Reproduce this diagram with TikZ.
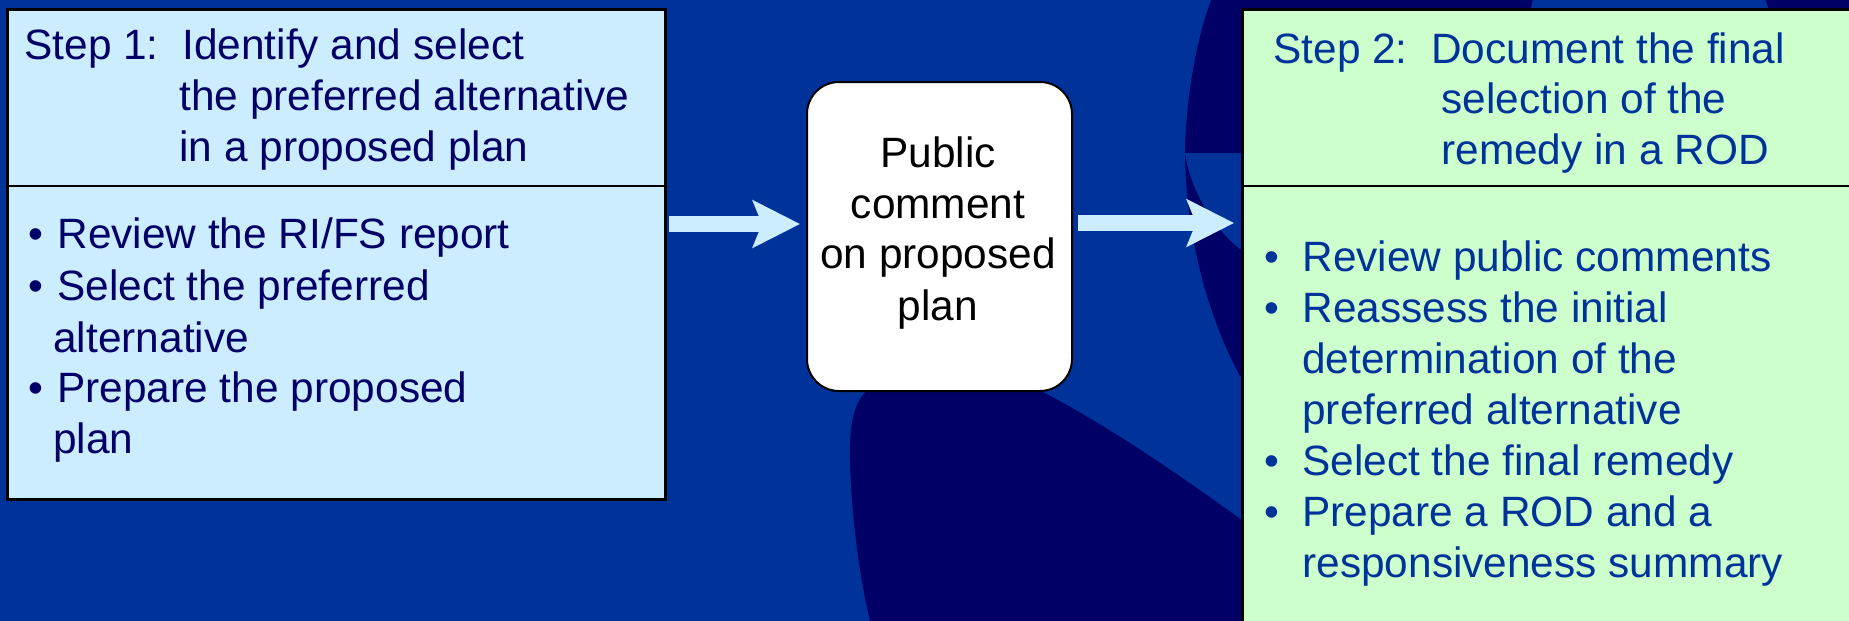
\documentclass[tikz,border=0pt]{standalone}
\usepackage{fontspec}
\setmainfont{Liberation Sans}
\usetikzlibrary{arrows.meta}
\definecolor{bgblue}{HTML}{003399}
\definecolor{navyc}{HTML}{000066}
\definecolor{lightblue}{HTML}{CCECFF}
\definecolor{lightgreen}{HTML}{CCFFCC}
\definecolor{textblue}{HTML}{003399}
\begin{document}
\begin{tikzpicture}[x=0.5pt,y=-0.5pt,
  txt/.style={font=\fontsize{21.2pt}{25.5pt}\selectfont, inner sep=0pt, anchor=base west},
  ltxt/.style={txt, text=navyc},
  rtxt/.style={txt, text=textblue},
  mtxt/.style={txt, anchor=base, text=black},
  stepbox/.style={draw=black, line width=1.5pt, inner sep=0pt, anchor=north west},
  divider/.style={draw=black, line width=1.3pt},
  bigarrow/.style={draw=lightblue, line width=8pt, -{Stealth[length=23.5pt,width=23.5pt,inset=4.5pt]}}
]
\clip (0,0) rectangle (1849,621);
\fill[bgblue] (0,0) rectangle (1849,621);
% background shapes
\fill[navyc] (1212,-2) .. controls (1195,40) and (1185,110) .. (1185,153) .. controls (1186,250) and (1215,330) .. (1240,376) -- (1300,376) -- (1300,-2) -- cycle;
\fill[navyc] (1300,-2) rectangle (1850,14);
\fill[bgblue] (1533,-2) -- (1765,-2) -- (1770,14) -- (1530,14) -- cycle;
\fill[bgblue] (1185,153) -- (1250,153) -- (1250,252) -- (1240,249) .. controls (1215,230) and (1190,190) .. (1185,153) -- cycle;
\fill[navyc] (875,385) .. controls (855,395) and (849,420) .. (850,460) .. controls (851,520) and (862,590) .. (871,625) -- (1250,625) -- (1250,526) .. controls (1180,475) and (1100,420) .. (1029,385) -- cycle;
% boxes
\node[stepbox, fill=lightblue, minimum width=329pt, minimum height=245pt] (lbox) at (6,8) {};
\node[stepbox, fill=lightgreen, minimum width=320pt, minimum height=320pt] (rbox) at (1241,8) {};
\node[stepbox, fill=white, line width=1pt, rounded corners=16pt, minimum width=132.5pt, minimum height=154.5pt] (mbox) at (806,81) {};
% dividers
\draw[divider] (lbox.west |- 0,186) -- (lbox.east |- 0,186);
\draw[divider] (rbox.west |- 0,186) -- (rbox.east |- 0,186);
% arrows
\draw[bigarrow, shorten <=0.75pt, shorten >=3pt] (lbox.east |- 0,224) -- (mbox.west |- 0,224);
\draw[bigarrow, shorten <=2.5pt, shorten >=3.5pt] (mbox.east |- 0,223) -- (rbox.west |- 0,223);
% left box text
\node[ltxt] (l1) at (24,59) {Step 1:\ \ Identify and select};
\node[ltxt] (l2) at (179,110) {the preferred alternative};
\node[ltxt] (l3) at (179,161) {in a proposed plan};
\node[ltxt] (lb1) at (28,248) {•};
\node[ltxt] (lt1) at (57,248) {Review the RI/FS report};
\node[ltxt] (lb2) at (28,300) {•};
\node[ltxt] (lt2) at (57,300) {Select the preferred};
\node[ltxt] (lt2b) at (53,352) {alternative};
\node[ltxt] (lb3) at (28,402) {•};
\node[ltxt] (lt3) at (57,402) {Prepare the proposed};
\node[ltxt] (lt3b) at (53,453) {plan};
% middle text
\node[mtxt] (m1) at (938,167) {Public};
\node[mtxt] (m2) at (938,218) {comment};
\node[mtxt] (m3) at (938,268) {on proposed};
\node[mtxt] (m4) at (938,320) {plan};
% right box text
\node[rtxt] (r1) at (1273,63) {Step 2:\ \ Document the final};
\node[rtxt] (r2) at (1441,113) {selection of the};
\node[rtxt] (r3) at (1441,164) {remedy in a ROD};
\node[rtxt] (rb1) at (1264,271) {•};
\node[rtxt] (rt1) at (1302,271) {Review public comments};
\node[rtxt] (rb2) at (1264,322) {•};
\node[rtxt] (rt2) at (1302,322) {Reassess the initial};
\node[rtxt] (rt2b) at (1302,373) {determination of the};
\node[rtxt] (rt2c) at (1302,424) {preferred alternative};
\node[rtxt] (rb3) at (1264,475) {•};
\node[rtxt] (rt3) at (1302,475) {Select the final remedy};
\node[rtxt] (rb4) at (1264,526) {•};
\node[rtxt] (rt4) at (1302,526) {Prepare a ROD and a};
\node[rtxt] (rt4b) at (1302,577) {responsiveness summary};
\end{tikzpicture}
\end{document}
